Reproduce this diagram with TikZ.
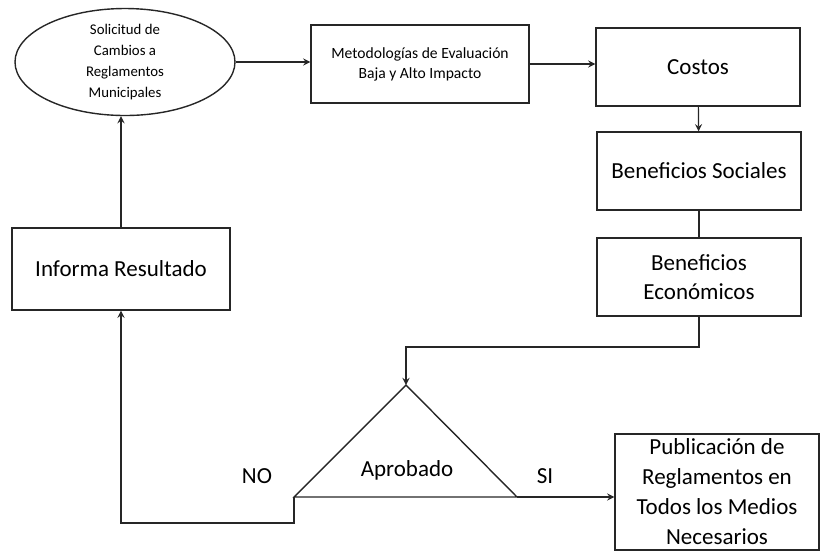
\documentclass[tikz,border=0pt]{standalone}
\usepackage{fontspec}
\setmainfont{Carlito}
\usetikzlibrary{shapes.geometric}
\newcommand{\linecolor}{black!85!white}
\newcommand{\bigfont}{\fontsize{11.5}{14.5}\selectfont}
\newcommand{\smallfont}{\fontsize{7.4}{10.5}\selectfont}

\begin{document}
\begin{tikzpicture}[x=0.5pt, y=-0.5pt, >=stealth,
    flowline/.style={draw=\linecolor, line width=0.6pt},
    procbox/.style={draw=\linecolor, line width=0.7pt, rectangle, align=center,
        minimum width=102pt, minimum height=39pt, inner sep=1pt, font=\bigfont},
    startoval/.style={draw=\linecolor, line width=0.7pt, ellipse, align=center,
        minimum width=110pt, minimum height=53.5pt, inner sep=0pt, font=\smallfont},
    tag/.style={font=\bigfont}]
        \useasboundingbox (0,0) rectangle (827,554);

        % top row
        \node[startoval] (solicitud) at (125,62) {Solicitud de\\Cambios a\\Reglamentos\\Municipales};
        \node[procbox, minimum width=109pt, font=\fontsize{7.8}{10}\selectfont] (metodo) at (420,64)
            {Metodologías de Evaluación\\Baja y Alto Impacto};
        \node[procbox] (costos) at (698,67) {Costos};

        % right column
        \node[procbox] (sociales) at (699,171) {Beneficios Sociales};
        \node[procbox] (economicos) at (699,277) {Beneficios\\Económicos};

        % left column
        \node[procbox, minimum width=109pt, minimum height=41pt] (informa) at (121,269) {Informa Resultado};

        % output
        \node[procbox, minimum height=58pt, font=\fontsize{11.5}{15}\selectfont] (publica) at (717,492)
            {Publicación de\\Reglamentos en\\Todos los Medios\\Necesarios};

        % decision triangle
        \coordinate (apex) at (406,385);
        \coordinate (baseL) at (294,497);
        \coordinate (baseR) at (517,497);
        \draw[flowline, line width=0.7pt] (apex) -- (baseR) -- (baseL) -- cycle;
        \node[tag] (aprobado) at (407,470) {Aprobado};
        \node[tag] (no) at (257,476) {NO};
        \node[tag] (si) at (545,476) {SI};

        % connectors
        \draw[flowline, ->] (solicitud.east) -- (solicitud.east -| metodo.west);
        \draw[flowline, ->] (metodo.east) -- (metodo.east -| costos.west);
        \draw[flowline, ->] (costos) -- (sociales);
        \draw[flowline] (sociales) -- (economicos);
        \coordinate (junc) at (406,347);
        \draw[flowline, ->] (economicos.south) |- (junc) -- (apex);
        \draw[flowline, ->] (baseL) -- ++(0,26) -| (informa.south);
        \draw[flowline, ->] (informa.north) -- (informa.north |- solicitud.south);
        \draw[flowline, ->] (baseR) -- (baseR -| publica.west);
    \end{tikzpicture}
\end{document}
